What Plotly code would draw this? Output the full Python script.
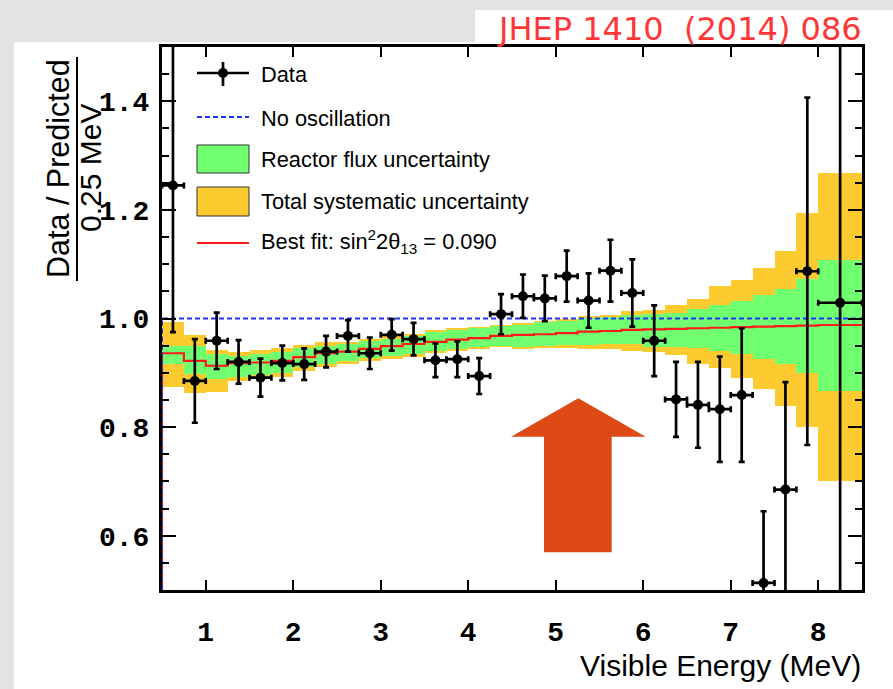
import numpy as np
import plotly.graph_objects as go

# ---------------- data ----------------
bin_edges = [0.5, 0.75, 1.0, 1.25, 1.5, 1.75, 2.0, 2.25, 2.5, 2.75, 3.0, 3.25, 3.5, 3.75,
             4.0, 4.25, 4.5, 4.75, 5.0, 5.25, 5.5, 5.75, 6.0, 6.25, 6.5, 6.75, 7.0, 7.25,
             7.5, 7.75, 8.0, 8.5]

best_fit = [0.936, 0.922, 0.913, 0.918, 0.919, 0.922, 0.929, 0.936, 0.939, 0.944, 0.949,
            0.953, 0.957, 0.961, 0.964, 0.968, 0.970, 0.971, 0.973, 0.976, 0.977, 0.979,
            0.980, 0.981, 0.982, 0.983, 0.984, 0.985, 0.986, 0.987, 0.988]

green_lo = [0.916, 0.898, 0.888, 0.893, 0.896, 0.899, 0.910, 0.916, 0.922, 0.927, 0.931,
            0.935, 0.941, 0.944, 0.947, 0.950, 0.947, 0.950, 0.951, 0.951, 0.953, 0.953,
            0.947, 0.948, 0.945, 0.941, 0.934, 0.925, 0.916, 0.899, 0.867]
green_hi = [0.950, 0.950, 0.934, 0.931, 0.934, 0.939, 0.945, 0.950, 0.953, 0.958, 0.963,
            0.968, 0.975, 0.978, 0.982, 0.986, 0.988, 0.993, 0.996, 1.001, 1.003, 1.006,
            1.008, 1.011, 1.018, 1.024, 1.032, 1.043, 1.054, 1.072, 1.107]

yellow_lo = [0.873, 0.862, 0.865, 0.885, 0.888, 0.893, 0.904, 0.910, 0.916, 0.922, 0.926,
             0.930, 0.937, 0.940, 0.943, 0.947, 0.944, 0.946, 0.946, 0.944, 0.943, 0.941,
             0.939, 0.933, 0.916, 0.909, 0.890, 0.870, 0.839, 0.800, 0.700]
yellow_hi = [0.994, 0.970, 0.942, 0.939, 0.942, 0.946, 0.951, 0.957, 0.956, 0.962, 0.967,
             0.972, 0.978, 0.982, 0.985, 0.988, 0.991, 0.996, 1.000, 1.004, 1.007, 1.014,
             1.016, 1.025, 1.036, 1.059, 1.070, 1.093, 1.125, 1.195, 1.268]

data_x = [0.625, 0.875, 1.125, 1.375, 1.625, 1.875, 2.125, 2.375, 2.625, 2.875, 3.125,
          3.375, 3.625, 3.875, 4.125, 4.375, 4.625, 4.875, 5.125, 5.375, 5.625, 5.875,
          6.125, 6.375, 6.625, 6.875, 7.125, 7.375, 7.625, 7.875, 8.25]
data_y = [1.245, 0.885, 0.959, 0.920, 0.891, 0.918, 0.916, 0.939, 0.968, 0.936, 0.970,
          0.962, 0.923, 0.925, 0.894, 1.008, 1.041, 1.037, 1.078, 1.033, 1.088, 1.047,
          0.959, 0.851, 0.841, 0.833, 0.859, 0.513, 0.685, 1.087, 1.029]
data_err = [0.270, 0.077, 0.052, 0.040, 0.035, 0.032, 0.029, 0.029, 0.029, 0.029, 0.029,
            0.030, 0.031, 0.033, 0.033, 0.037, 0.040, 0.042, 0.047, 0.050, 0.057, 0.062,
            0.065, 0.069, 0.079, 0.097, 0.123, 0.132, 0.198, 0.320, 0.600]
data_xerr = [0.125] * 30 + [0.25]

no_osc = 1.0
x_ticks = [1, 2, 3, 4, 5, 6, 7, 8]

# ---------------- styling ----------------
YELLOW = "#FDCA30"
GREEN = "#6FFF6F"
RED = "#FF1A1A"
BLUE = "#2233FF"
ARROW = "#DE4A16"
MONO = "Liberation Mono, Courier New, monospace"
SANS = "Liberation Sans, Arial, Helvetica, sans-serif"

W, H = 893, 689
L, R, T, B = 162, 862, 47, 590


def px(x):
    return (x - L) / (R - L)


def py(y):
    return (B - y) / (B - T)


edges = np.array(bin_edges)
centers = (edges[:-1] + edges[1:]) / 2
widths = np.diff(edges)

fig = go.Figure()

fig.add_trace(go.Bar(x=centers, y=np.array(yellow_hi) - np.array(yellow_lo), base=yellow_lo,
                     width=widths, marker=dict(color=YELLOW, line=dict(width=0)),
                     hoverinfo="skip", showlegend=False))
fig.add_trace(go.Bar(x=centers, y=np.array(green_hi) - np.array(green_lo), base=green_lo,
                     width=widths, marker=dict(color=GREEN, line=dict(width=0)),
                     hoverinfo="skip", showlegend=False))

# best fit step histogram (starting from the floor at the left edge, ROOT style)
step_x = [bin_edges[0]] + bin_edges
step_y = [0.0] + best_fit + [best_fit[-1]]
fig.add_trace(go.Scatter(x=step_x, y=step_y, mode="lines", line_shape="hv",
                         line=dict(color=RED, width=2.2), showlegend=False))

# no oscillation
fig.add_trace(go.Scatter(x=[bin_edges[0], bin_edges[0], bin_edges[-1]], y=[0.0, no_osc, no_osc],
                         mode="lines", line=dict(color=BLUE, width=2, dash="5px,3px"),
                         showlegend=False))

# data
fig.add_trace(go.Scatter(
    x=data_x, y=data_y, mode="markers",
    marker=dict(color="black", size=10),
    error_y=dict(type="data", array=data_err, color="black", thickness=2.7, width=3),
    error_x=dict(type="data", array=data_xerr, color="black", thickness=2.7, width=3),
    showlegend=False))

shapes = []
# background (slide) regions
GRAY = "#e3e3e3"
shapes.append(dict(type="rect", xref="paper", yref="paper", x0=px(0), x1=px(14), y0=py(0), y1=py(H),
                   fillcolor=GRAY, line=dict(width=0), layer="below"))
shapes.append(dict(type="rect", xref="paper", yref="paper", x0=px(0), x1=px(475), y0=py(0), y1=py(42),
                   fillcolor=GRAY, line=dict(width=0), layer="below"))
shapes.append(dict(type="rect", xref="paper", yref="paper", x0=px(475), x1=px(W), y0=py(0), y1=py(10),
                   fillcolor=GRAY, line=dict(width=0), layer="below"))

# legend
lx0, lx1 = px(197), px(249)
shapes.append(dict(type="line", xref="paper", yref="paper", x0=lx0, x1=lx1, y0=py(73), y1=py(73),
                   line=dict(color="black", width=2.7)))
shapes.append(dict(type="line", xref="paper", yref="paper", x0=px(223), x1=px(223), y0=py(62), y1=py(86),
                   line=dict(color="black", width=2.7)))
shapes.append(dict(type="circle", xref="paper", yref="paper", x0=px(218), x1=px(228), y0=py(78), y1=py(68),
                   fillcolor="black", line=dict(color="black", width=0)))
shapes.append(dict(type="line", xref="paper", yref="paper", x0=lx0, x1=lx1, y0=py(117), y1=py(117),
                   line=dict(color=BLUE, width=2, dash="5px,3px")))
shapes.append(dict(type="rect", xref="paper", yref="paper", x0=lx0, x1=lx1, y0=py(173), y1=py(145),
                   fillcolor=GREEN, line=dict(color="#333333", width=1)))
shapes.append(dict(type="rect", xref="paper", yref="paper", x0=lx0, x1=lx1, y0=py(216), y1=py(187),
                   fillcolor=YELLOW, line=dict(color="#333333", width=1)))
shapes.append(dict(type="line", xref="paper", yref="paper", x0=lx0, x1=lx1, y0=py(243), y1=py(243),
                   line=dict(color=RED, width=2.2)))

# y-title fraction bar
shapes.append(dict(type="line", xref="paper", yref="paper", x0=px(77), x1=px(77), y0=py(57), y1=py(281),
                   line=dict(color="black", width=2)))

# arrow
ax = [578.3, 645.7, 611.7, 611.7, 544, 544, 511]
ay = [398.3, 436.7, 436.7, 552.3, 552.3, 436.7, 436.7]
path = "M " + " L ".join(f"{px(a):.4f},{py(b):.4f}" for a, b in zip(ax, ay)) + " Z"
shapes.append(dict(type="path", xref="paper", yref="paper", path=path, fillcolor=ARROW,
                   line=dict(width=0)))

annotations = []
leg_items = [("Data", 74), ("No oscillation", 118), ("Reactor flux uncertainty", 159),
             ("Total systematic uncertainty", 201),
             ("Best fit: sin<sup>2</sup>2θ<sub>13</sub> = 0.090", 242)]
for txt, yy in leg_items:
    annotations.append(dict(text=txt, xref="paper", yref="paper", x=px(259), y=py(yy),
                            xanchor="left", yanchor="middle", showarrow=False,
                            font=dict(family=SANS, size=21.8, color="black")))

annotations.append(dict(text="Visible Energy (MeV)", xref="paper", yref="paper", x=px(863), y=py(665),
                        xanchor="right", yanchor="middle", showarrow=False,
                        font=dict(family=SANS, size=30, color="black")))
annotations.append(dict(text="Data / Predicted", xref="paper", yref="paper", x=px(58), y=py(169),
                        xanchor="center", yanchor="middle", textangle=-90, showarrow=False,
                        font=dict(family=SANS, size=30.5, color="black")))
annotations.append(dict(text="0.25 MeV", xref="paper", yref="paper", x=px(90), y=py(168),
                        xanchor="center", yanchor="middle", textangle=-90, showarrow=False,
                        font=dict(family=SANS, size=30, color="black")))
annotations.append(dict(text="JHEP 1410 \u00a0(2014) 086", xref="paper", yref="paper", x=px(864), y=py(29),
                        xanchor="right", yanchor="middle", showarrow=False,
                        font=dict(family="DejaVu Sans, Verdana, sans-serif", size=32, color="#FF3636")))

fig.update_layout(
    width=W, height=H,
    margin=dict(l=L, r=W - R, t=T, b=H - B, pad=0),
    plot_bgcolor="white", paper_bgcolor="white",
    barmode="overlay", bargap=0, showlegend=False,
    shapes=shapes, annotations=annotations,
    xaxis=dict(range=[bin_edges[0], bin_edges[-1]], tickvals=x_ticks, ticks="inside", ticklen=10,
               tickwidth=2, tickcolor="black", mirror="allticks", showline=True, linewidth=3,
               linecolor="black", showgrid=False, zeroline=False, ticklabelstandoff=14,
               tickfont=dict(family=MONO, size=28, color="black", weight="bold")),
    yaxis=dict(range=[0.5, 1.5], dtick=0.2, tick0=0, tickformat=".1f", ticks="inside", ticklen=14,
               tickwidth=2, tickcolor="black", mirror="allticks", showline=True, linewidth=3,
               linecolor="black", showgrid=False, zeroline=False, ticklabelstandoff=4,
               minor=dict(dtick=0.05, ticks="inside", ticklen=7, tickwidth=1.5, tickcolor="black",
                          showgrid=False),
               tickfont=dict(family=MONO, size=28, color="black", weight="bold")),
)

fig.write_html("out.html")
